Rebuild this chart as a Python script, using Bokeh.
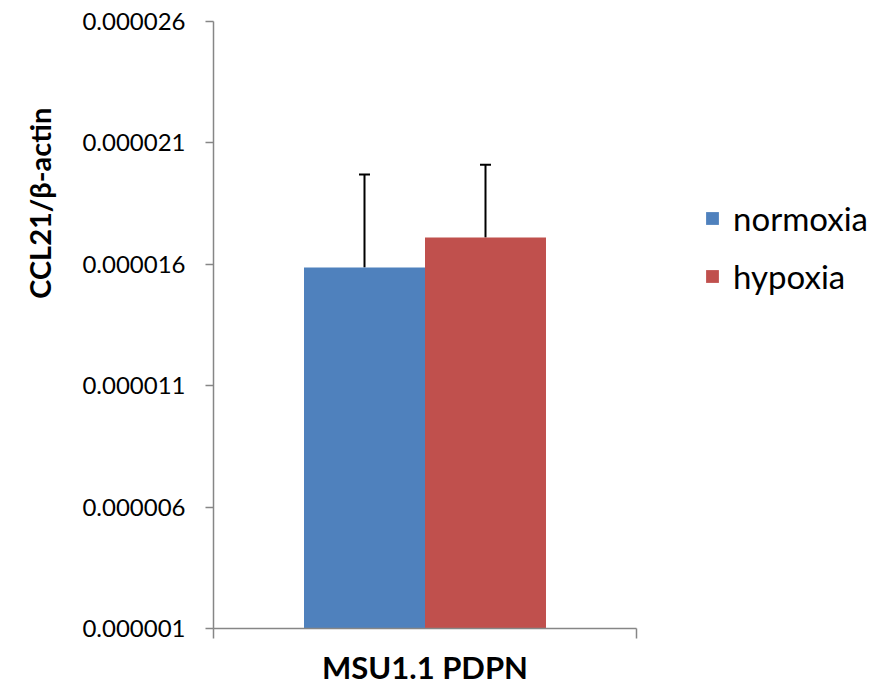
import math
from bokeh.plotting import figure
from bokeh.models import (ColumnDataSource, Range1d, LinearAxis, FixedTicker,
                          PrintfTickFormatter, Whisker, TeeHead, Legend, LegendItem)
from bokeh.embed import file_html
from bokeh.resources import INLINE

# ---- data ----
groups = ["MSU1.1 PDPN"]
series = ["normoxia", "hypoxia"]
values = [0.00001587, 0.00001710]
errors = [0.00000383, 0.00000300]
colors = ["#4F81BD", "#C0504D"]
y_ticks = [0.000001, 0.000006, 0.000011, 0.000016, 0.000021, 0.000026]
y_label = "CCL21/β-actin"

FONT = "Lato"
AXIS_GRAY = "#868686"

n = len(series)
xpos = [i - (n - 1) / 2 for i in range(n)]   # bars side by side around the group centre
half_span = n / 2 + 0.748                      # empty space on both sides of the group
src = ColumnDataSource(dict(
    x=xpos,
    top=values,
    upper=[v + e for v, e in zip(values, errors)],
    lower=values,
    color=colors,
    series=series,
))

p = figure(
    x_range=Range1d(-half_span, half_span),
    y_range=Range1d(y_ticks[0], y_ticks[-1]),
    frame_width=423, frame_height=607,
    min_border_left=213, min_border_right=243, min_border_top=21, min_border_bottom=56,
    output_backend="svg", toolbar_location=None,
    x_axis_location=None, y_axis_location=None,
)
p.outline_line_color = None
p.xgrid.visible = False
p.ygrid.visible = False

r = p.vbar(x="x", top="top", bottom=y_ticks[0], width=1.0, source=src,
           fill_color="color", line_color=None)

wh = Whisker(base="x", upper="upper", lower="lower", source=src, dimension="height",
             line_color="black", line_width=2,
             upper_head=TeeHead(size=11, line_color="black", line_width=2), lower_head=None)
p.add_layout(wh)

# y axis
yax = LinearAxis(ticker=FixedTicker(ticks=y_ticks),
                 formatter=PrintfTickFormatter(format="%.6f"))
yax.axis_line_color = AXIS_GRAY
yax.axis_line_width = 1.5
yax.major_tick_line_color = AXIS_GRAY
yax.major_tick_line_width = 1.5
yax.major_tick_out = 8
yax.major_tick_in = 0
yax.minor_tick_line_color = None
yax.major_label_text_font = FONT
yax.major_label_text_font_size = "24px"
yax.major_label_text_color = "black"
yax.major_label_standoff = 20
p.add_layout(yax, "left")

# y axis title, placed above the centre like the original (drawn as a lone tick label)
y_title_pos = y_ticks[0] + 0.858 * (y_ticks[-1] - y_ticks[0])
ytax = LinearAxis(ticker=FixedTicker(ticks=[y_title_pos]),
                  major_label_overrides={y_title_pos: y_label})
ytax.axis_line_color = None
ytax.major_tick_line_color = None
ytax.minor_tick_line_color = None
ytax.major_tick_out = 0
ytax.major_tick_in = 0
ytax.major_label_orientation = math.pi / 2
ytax.major_label_standoff = 40
ytax.major_label_text_font = FONT
ytax.major_label_text_font_style = "bold"
ytax.major_label_text_font_size = "29px"
ytax.major_label_text_color = "black"
p.add_layout(ytax, "left")

# x axis (end ticks only, label below)
xax = LinearAxis(ticker=FixedTicker(ticks=[-half_span, half_span]),
                 major_label_overrides={-half_span: "", half_span: ""})
xax.axis_line_color = AXIS_GRAY
xax.axis_line_width = 1.5
xax.major_tick_line_color = AXIS_GRAY
xax.major_tick_line_width = 1.5
xax.major_tick_out = 10
xax.major_tick_in = 0
xax.minor_tick_line_color = None
xax.major_label_standoff = 0
xax.axis_label = groups[0]
xax.axis_label_text_font = FONT
xax.axis_label_text_font_style = "bold"
xax.axis_label_text_font_size = "31px"
xax.axis_label_text_color = "black"
xax.axis_label_standoff = 9
p.add_layout(xax, "below")

legend = Legend(items=[LegendItem(label=s, renderers=[r], index=i) for i, s in enumerate(series)],
                location=(68, 332), orientation="vertical")
legend.label_text_font = FONT
legend.label_text_font_size = "33px"
legend.label_text_color = "black"
legend.glyph_width = 16
legend.glyph_height = 16
legend.label_standoff = 13
legend.spacing = 18
legend.padding = 0
legend.margin = 0
legend.border_line_color = None
legend.background_fill_alpha = 0
p.add_layout(legend, "right")

open("out.html", "w").write(file_html(p, INLINE))
